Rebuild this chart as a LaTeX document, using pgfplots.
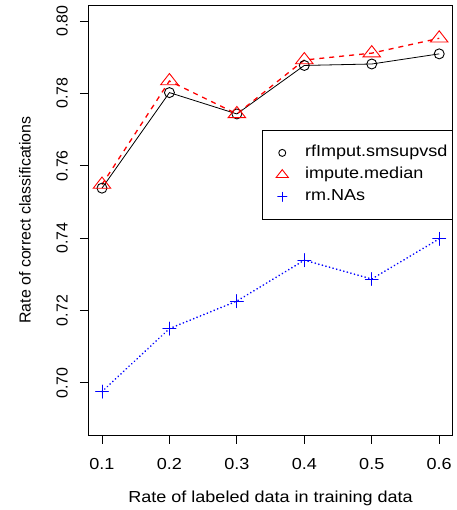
\documentclass[border=0pt]{standalone}
\usepackage{fontspec}
\setmainfont{Liberation Sans}
\usepackage{graphicx}
\usepackage{pgfplots}
\pgfplotsset{compat=1.18}
% the reference text is a little wider than it is tall
\newcommand{\hs}[1]{\scalebox{1.13}[1]{#1}}

\begin{document}
\fontsize{16}{19}\selectfont
\begin{tikzpicture}
\useasboundingbox (-88.5bp,-75bp) rectangle (368.5bp,435bp);
\begin{axis}[
  at={(0bp,0bp)}, anchor=south west,
  scale only axis, width=364.2bp, height=430bp,
  xmin=0.08, xmax=0.62, ymin=0.6856, ymax=0.8044,
  xtick={0.1,0.2,0.3,0.4,0.5,0.6},
  xticklabels={\hs{0.1},\hs{0.2},\hs{0.3},\hs{0.4},\hs{0.5},\hs{0.6}},
  ytick={0.70,0.72,0.74,0.76,0.78,0.80},
  yticklabels={0.70,0.72,0.74,0.76,0.78,0.80},
  tick align=outside, tick pos=left, major tick length=8.5bp,
  tick style={black, line width=0.8bp},
  axis line style={line width=0.8bp},
  xticklabel style={anchor=base, inner sep=0pt, yshift=-25.5bp},
  yticklabel style={rotate=90, anchor=south, inner xsep=0pt, inner ysep=12bp},
  every axis x label/.style={at={(rel axis cs:0.5,0)}, anchor=base, yshift=-67bp},
  every axis y label/.style={at={(rel axis cs:0,0.5)}, rotate=90, anchor=south,
    inner xsep=0pt, inner ysep=57.5bp},
  xlabel={\hs{Rate of labeled data in training data}},
  ylabel={Rate of correct classifications},
  legend style={at={(rel axis cs:1,0.7093)}, anchor=north east, draw=black,
    line width=0.8bp, fill=white, inner xsep=5bp, inner ysep=14.5bp, row sep=6bp,
    nodes={inner sep=0pt, text height=12bp, text depth=4bp},
    /tikz/every odd column/.append style={column sep=8bp}},
  legend cell align=left,
  legend image code/.code={\path (0bp,0bp) (28bp,0bp);
    \draw[#1, /tikz/every mark/.append style={scale=0.7}] plot coordinates {(14bp,0bp)};},
]
\addplot[black, line width=0.8bp, mark=o, mark size=5bp, mark options={solid, line width=0.9bp}]
  coordinates {(0.1,0.7538) (0.2,0.7802) (0.3,0.7743) (0.4,0.7877) (0.5,0.7881) (0.6,0.7909)};
\addlegendentry{\hs{rfImput.smsupvsd}}
\addplot[red, line width=1.3bp, dash pattern=on 5bp off 5bp, mark=triangle, mark size=7.5bp,
  mark options={solid, line width=0.9bp, xscale=1.35}]
  coordinates {(0.1,0.7548) (0.2,0.7834) (0.3,0.7743) (0.4,0.7892) (0.5,0.7911) (0.6,0.7952)};
\addlegendentry{\hs{impute.median}}
\addplot[blue, line width=1.8bp, line cap=round, dash pattern=on 0.1bp off 3.6bp, mark=+, mark size=6.5bp,
  mark options={solid, line width=0.9bp}]
  coordinates {(0.1,0.6976) (0.2,0.7150) (0.3,0.7226) (0.4,0.7339) (0.5,0.7287) (0.6,0.7398)};
\addlegendentry{\hs{rm.NAs}}
\end{axis}
\end{tikzpicture}
\end{document}
